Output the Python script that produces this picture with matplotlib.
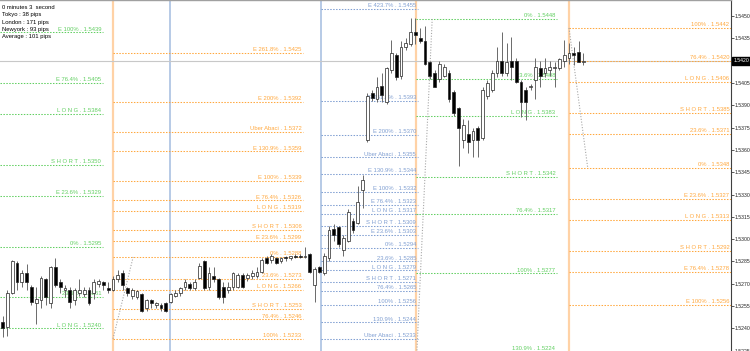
import matplotlib
matplotlib.use("Agg")
import matplotlib.pyplot as plt
import matplotlib.transforms as mtrans

# H1 candles (bar index = position in the list)
opens = [
    1.5244, 1.5241, 1.5264, 1.5284, 1.5271, 1.5277, 1.5268, 1.5257, 1.5259, 1.5273,
    1.5257, 1.5281, 1.5271, 1.5266, 1.5266, 1.5259, 1.5264, 1.5263, 1.5266, 1.5264,
    1.5270, 1.5271, 1.5267, 1.5266, 1.5273, 1.5277, 1.5267, 1.5262, 1.5261, 1.5263,
    1.5254, 1.5259, 1.5256, 1.5256, 1.5257, 1.5258, 1.5262, 1.5264, 1.5268, 1.5270,
    1.5267, 1.5274, 1.5285, 1.5268, 1.5275, 1.5273, 1.5268, 1.5266, 1.5268, 1.5268,
    1.5276, 1.5274, 1.5275, 1.5275, 1.5278, 1.5287, 1.5286, 1.5287, 1.5285, 1.5288,
    1.5287, 1.5289, 1.5289, 1.5288, 1.5290, 1.5269, 1.5281, 1.5277, 1.5287, 1.5307,
    1.5308, 1.5293, 1.5299, 1.5312, 1.5311, 1.5333, 1.5367, 1.5398, 1.5394, 1.5403,
    1.5392, 1.5414, 1.5424, 1.5410, 1.5429, 1.5431, 1.5439, 1.5435, 1.5433, 1.5419,
    1.5412, 1.5408, 1.5410, 1.5412, 1.5399, 1.5388, 1.5367, 1.5371, 1.5367, 1.5375,
    1.5368, 1.5396, 1.5400, 1.5412, 1.5420, 1.5412, 1.5420, 1.5420, 1.5406, 1.5400,
    1.5402, 1.5407, 1.5415, 1.5412, 1.5414, 1.5415, 1.5415, 1.5420, 1.5422, 1.5425,
    1.5426, 1.5419]
highs = [
    1.5248, 1.5266, 1.5286, 1.5285, 1.5279, 1.5283, 1.5269, 1.5268, 1.5275, 1.5274,
    1.5282, 1.5287, 1.5273, 1.5269, 1.5268, 1.5267, 1.5273, 1.5268, 1.5268, 1.5273,
    1.5273, 1.5272, 1.5271, 1.5275, 1.5279, 1.5279, 1.5268, 1.5267, 1.5266, 1.5264,
    1.5260, 1.5260, 1.5258, 1.5257, 1.5258, 1.5264, 1.5266, 1.5268, 1.5273, 1.5271,
    1.5273, 1.5284, 1.5286, 1.5281, 1.5281, 1.5274, 1.5271, 1.5271, 1.5278, 1.5277,
    1.5277, 1.5277, 1.5279, 1.5281, 1.5287, 1.5289, 1.5290, 1.5288, 1.5288, 1.5289,
    1.5289, 1.5290, 1.5290, 1.5295, 1.5291, 1.5281, 1.5282, 1.5291, 1.5309, 1.5310,
    1.5309, 1.5303, 1.5320, 1.5314, 1.5336, 1.5343, 1.5398, 1.5400, 1.5409, 1.5412,
    1.5416, 1.5434, 1.5425, 1.5433, 1.5435, 1.5449, 1.5449, 1.5442, 1.5443, 1.5420,
    1.5414, 1.5420, 1.5418, 1.5414, 1.5400, 1.5389, 1.5381, 1.5380, 1.5375, 1.5376,
    1.5402, 1.5407, 1.5414, 1.5429, 1.5439, 1.5432, 1.5436, 1.5422, 1.5407, 1.5402,
    1.5404, 1.5422, 1.5420, 1.5422, 1.5420, 1.5419, 1.5422, 1.5434, 1.5432, 1.5429,
    1.5433, 1.5425]
lows = [
    1.5234, 1.5235, 1.5263, 1.5266, 1.5268, 1.5266, 1.5256, 1.5243, 1.5254, 1.5256,
    1.5254, 1.5268, 1.5264, 1.5261, 1.5254, 1.5256, 1.5262, 1.5261, 1.5256, 1.5260,
    1.5268, 1.5266, 1.5264, 1.5265, 1.5271, 1.5266, 1.5262, 1.5260, 1.5260, 1.5251,
    1.5252, 1.5254, 1.5254, 1.5252, 1.5251, 1.5257, 1.5261, 1.5262, 1.5266, 1.5266,
    1.5266, 1.5273, 1.5266, 1.5266, 1.5271, 1.5260, 1.5257, 1.5264, 1.5266, 1.5267,
    1.5267, 1.5272, 1.5273, 1.5274, 1.5277, 1.5283, 1.5284, 1.5283, 1.5284, 1.5285,
    1.5286, 1.5287, 1.5287, 1.5287, 1.5277, 1.5258, 1.5277, 1.5276, 1.5285, 1.5299,
    1.5295, 1.5289, 1.5298, 1.5304, 1.5310, 1.5321, 1.5365, 1.5393, 1.5392, 1.5392,
    1.5391, 1.5412, 1.5407, 1.5408, 1.5427, 1.5430, 1.5431, 1.5432, 1.5417, 1.5408,
    1.5402, 1.5406, 1.5409, 1.5392, 1.5383, 1.5349, 1.5361, 1.5358, 1.5355, 1.5355,
    1.5367, 1.5394, 1.5399, 1.5409, 1.5410, 1.5410, 1.5407, 1.5405, 1.5382, 1.5380,
    1.5400, 1.5394, 1.5402, 1.5409, 1.5410, 1.5402, 1.5414, 1.5416, 1.5418, 1.5417,
    1.5419, 1.5417]
closes = [
    1.5240, 1.5264, 1.5285, 1.5271, 1.5277, 1.5271, 1.5258, 1.5260, 1.5274, 1.5261,
    1.5281, 1.5269, 1.5268, 1.5267, 1.5258, 1.5266, 1.5266, 1.5266, 1.5257, 1.5271,
    1.5272, 1.5269, 1.5266, 1.5273, 1.5276, 1.5269, 1.5264, 1.5266, 1.5265, 1.5252,
    1.5259, 1.5257, 1.5257, 1.5254, 1.5252, 1.5263, 1.5264, 1.5267, 1.5271, 1.5267,
    1.5271, 1.5282, 1.5267, 1.5277, 1.5273, 1.5261, 1.5261, 1.5268, 1.5277, 1.5276,
    1.5268, 1.5276, 1.5277, 1.5278, 1.5286, 1.5284, 1.5289, 1.5284, 1.5287, 1.5287,
    1.5289, 1.5288, 1.5288, 1.5289, 1.5278, 1.5280, 1.5278, 1.5289, 1.5306, 1.5303,
    1.5297, 1.5301, 1.5318, 1.5306, 1.5325, 1.5340, 1.5396, 1.5395, 1.5402, 1.5397,
    1.5415, 1.5425, 1.5409, 1.5429, 1.5432, 1.5439, 1.5437, 1.5433, 1.5418, 1.5410,
    1.5402, 1.5418, 1.5416, 1.5394, 1.5385, 1.5375, 1.5377, 1.5365, 1.5373, 1.5367,
    1.5400, 1.5405, 1.5412, 1.5420, 1.5412, 1.5419, 1.5416, 1.5406, 1.5392, 1.5392,
    1.5403, 1.5416, 1.5410, 1.5415, 1.5416, 1.5416, 1.5421, 1.5424, 1.5425, 1.5424,
    1.5419, 1.5420]

bid = 1.5420
price_ticks = [1.5225, 1.5240, 1.5255, 1.5270, 1.5285, 1.5300, 1.5315, 1.5330,
               1.5345, 1.5360, 1.5375, 1.5390, 1.5405, 1.5420, 1.5435, 1.5450]

info_lines = ["0 minutes 3  second", "Tokyo : 38 pips", "London : 171 pips",
              "Newyork : 93 pips", "Average : 101 pips"]

# fibo level groups: names and prices
g1_names = ["E 100%", "E 76.4%", "L O N G", "S H O R T", "E 23.6%", "0%", "23.6%", "L O N G"]
g1_prices = [1.5439, 1.5405, 1.5384, 1.5350, 1.5329, 1.5295, 1.5261, 1.5240]

g2_names = ["E 261.8%", "E 200%", "Uber Abaci", "E 130.9%", "E 100%", "E 76.4%", "L O N G",
            "S H O R T", "E 23.6%", "0%", "23.6%", "L O N G", "S H O R T", "76.4%", "100%"]
g2_prices = [1.5425, 1.5392, 1.5372, 1.5359, 1.5339, 1.5326, 1.5319,
             1.5306, 1.5299, 1.5288, 1.5273, 1.5266, 1.5253, 1.5246, 1.5233]

g3_names = ["E 423.7%", "E 261.8%", "E 200%", "Uber Abaci", "E 130.9%", "E 100%", "E 76.4%",
            "L O N G", "S H O R T", "E 23.6%", "0%", "23.6%", "L O N G", "S H O R T",
            "76.4%", "100%", "130.9%", "Uber Abaci"]
g3_prices = [1.5455, 1.5393, 1.5370, 1.5355, 1.5344, 1.5332, 1.5323,
             1.5317, 1.5309, 1.5303, 1.5294, 1.5285, 1.5279, 1.5271,
             1.5265, 1.5256, 1.5244, 1.5233]

g4_names = ["0%", "23.6%", "L O N G", "S H O R T", "76.4%", "100%", "130.9%"]
g4_prices = [1.5448, 1.5408, 1.5383, 1.5342, 1.5317, 1.5277, 1.5224]

g5_names = ["100%", "76.4%", "L O N G", "S H O R T", "23.6%", "0%", "E 23.6%",
            "L O N G", "S H O R T", "E 76.4%", "E 100%"]
g5_prices = [1.5442, 1.5420, 1.5406, 1.5385, 1.5371, 1.5348, 1.5327,
             1.5313, 1.5292, 1.5278, 1.5256]

# fibo anchor lines (bar, price)
zz_bars = [[23.0, 27.2], [89.5, 86.3], [118.0, 121.9]]
zz_prices = [[1.5233, 1.5288], [1.5448, 1.5224], [1.5442, 1.5348]]

# session separators (bar positions)
orange_sessions = [23.0, 86.1, 118.0]
blue_sessions = [34.9, 66.3]

GREEN = "#62CF62"
ORANGE = "#FFA83E"
BLUE = "#809FD2"

fig = plt.figure(figsize=(7.5, 3.51), dpi=100)
ax = fig.add_axes([0, 0, 731 / 750, 1])
ax.set_facecolor("white")
ax.set_xlim(-0.54, 151.75)
ax.set_ylim(1.52248, 1.54608)

font = "Liberation Sans"
fs = 4.2

# session lines
for b in orange_sessions:
    ax.axvline(b, color="#FFD2A6", lw=1.6, zorder=1)
for b in blue_sessions:
    ax.axvline(b, color="#B7CAE6", lw=1.4, zorder=1)

# bid line
ax.axhline(bid, color="#C8C8C8", lw=0.8, zorder=1)

# level groups: (names, prices, start bar, end bar, colour)
groups = [
    (g1_names, g1_prices, -0.54, 20.9, GREEN),
    (g2_names, g2_prices, 23.0, 62.6, ORANGE),
    (g3_names, g3_prices, 66.3, 86.5, BLUE),
    (g4_names, g4_prices, 86.1, 115.5, GREEN),
    (g5_names, g5_prices, 118.0, 151.75, ORANGE),
]
lift = mtrans.offset_copy(ax.transData, fig=fig, y=0.6, units="points")
for names, prices, x0, x1, col in groups:
    for name, p in zip(names, prices):
        ax.plot([x0, x1], [p, p], color=col, lw=0.75, ls=(0, (1.4, 1.4)), zorder=2)
        ax.text(x1 - 0.35, p, f"{name} . {p:.4f}", transform=lift, ha="right",
                va="bottom", fontsize=fs, family=font, color=col, zorder=2)

for xs, ys in zip(zz_bars, zz_prices):
    ax.plot(xs, ys, color="#A8A8A8", lw=0.8, ls=(0, (1, 1.5)), zorder=2)

# candles
idx = list(range(len(opens)))
ax.vlines(idx, lows, highs, color="#6A6A6A", lw=0.7, zorder=3)
bottoms = [min(o, c) for o, c in zip(opens, closes)]
heights = [max(abs(c - o), 0.00003) for o, c in zip(opens, closes)]
faces = ["white" if c >= o else "black" for o, c in zip(opens, closes)]
ax.bar(idx, heights, bottom=bottoms, width=0.62, color=faces,
       edgecolor="#222222", linewidth=0.5, zorder=4)

# price scale
ax.yaxis.tick_right()
ax.set_yticks(price_ticks)
ax.set_yticklabels(["" if p == bid else f"{p:.4f}" for p in price_ticks], family=font)
ax.tick_params(axis="y", direction="out", length=2.0, width=0.6, colors="#404040",
               labelsize=3.7, pad=0.8, labelcolor="#222222")
ax.set_xticks([])
for s in ["left", "bottom"]:
    ax.spines[s].set_visible(False)
ax.spines["right"].set_color("#404040")
ax.spines["right"].set_linewidth(0.8)
ax.spines["top"].set_color("#A0A0A0")
ax.spines["top"].set_linewidth(1.0)

ax.text(1.003, bid, f"{bid:.4f}", transform=mtrans.blended_transform_factory(ax.transAxes, ax.transData),
        ha="left", va="center", fontsize=3.7, family=font, color="white", clip_on=False,
        zorder=10, bbox=dict(boxstyle="square,pad=0.3", fc="black", ec="black"))

# info block
for k, line in enumerate(info_lines):
    ax.text(0.003, 0.985 - k * 0.0205, line, transform=ax.transAxes, ha="left", va="top",
            fontsize=fs, family=font, color="black", zorder=6)

fig.savefig("out.png", dpi=100)
